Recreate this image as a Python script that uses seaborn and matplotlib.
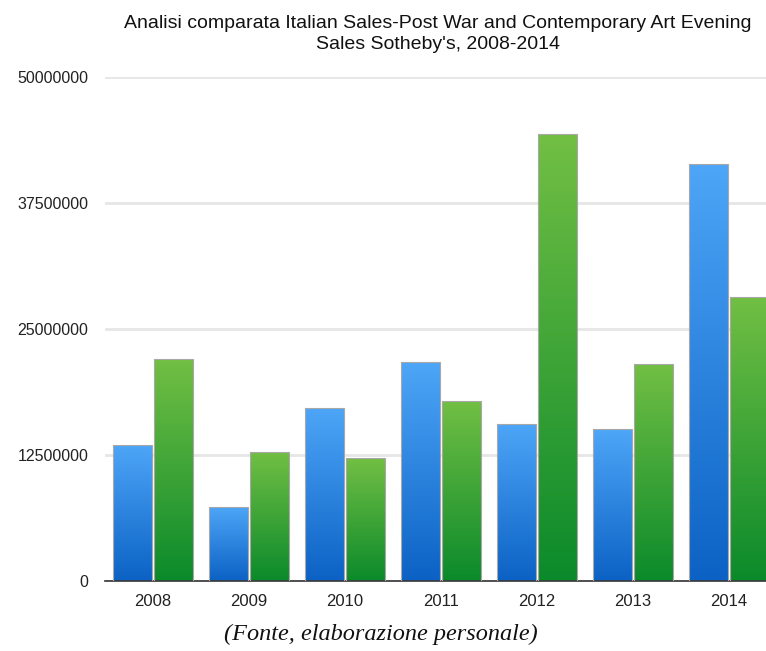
import numpy as np
import pandas as pd
import matplotlib
matplotlib.use("Agg")
import matplotlib.pyplot as plt
from matplotlib.colors import LinearSegmentedColormap
import seaborn as sns

years = ["2008", "2009", "2010", "2011", "2012", "2013", "2014"]
series_a = [13500000, 7350000, 17200000, 21700000, 15600000, 15050000, 41400000]
series_b = [22000000, 12800000, 12170000, 17900000, 44300000, 21500000, 28200000]
yticks = [0, 12500000, 25000000, 37500000, 50000000]
title = "Analisi comparata Italian Sales-Post War and Contemporary Art Evening\nSales Sotheby's, 2008-2014"
caption = "(Fonte, elaborazione personale)"

df = pd.DataFrame({
    "year": years * 2,
    "value": series_a + series_b,
    "series": ["A"] * len(years) + ["B"] * len(years),
})

sns.set_theme(style="white")
plt.rcParams["font.family"] = ["Liberation Sans", "DejaVu Sans"]

fig = plt.figure(figsize=(7.66, 6.51), dpi=100)
ax = fig.add_axes([105 / 766, 70 / 651, 672 / 766, 504 / 651])

sns.barplot(data=df, x="year", y="value", hue="series", order=years,
            hue_order=["A", "B"], palette=["#2e86e0", "#3aa53a"],
            width=0.85, gap=0.05, legend=False, ax=ax, zorder=2)

ax.set_xlim(-0.5, len(years) - 0.5)
ax.set_ylim(0, 50000000)

cmaps = {
    0: LinearSegmentedColormap.from_list("b", ["#0b62c4", "#4ea6f8"]),
    1: LinearSegmentedColormap.from_list("g", ["#0b8a2b", "#72bf44"]),
}
grad = np.linspace(0, 1, 256).reshape(-1, 1)
n = len(years)
for i, p in enumerate(list(ax.patches)[: 2 * n]):
    s = i // n
    x0, w, h = p.get_x(), p.get_width(), p.get_height()
    im = ax.imshow(grad, extent=[x0, x0 + w, 0, h], origin="lower",
                   aspect="auto", cmap=cmaps[s], zorder=2.5)
    im.set_clip_path(p)
    p.set_facecolor("none")
    p.set_edgecolor("#a8a8a8")
    p.set_linewidth(0.8)
    p.set_zorder(3)

ax.set_xlim(-0.5, len(years) - 0.5)
ax.set_ylim(0, 50000000)

ax.set_yticks(yticks)
ax.set_yticklabels([str(v) for v in yticks], fontsize=11.5, color="#222222")
ax.tick_params(axis="x", labelsize=12, colors="#222222", length=0, pad=9)
ax.tick_params(axis="y", length=0, pad=12)
ax.yaxis.grid(True, color="#e6e6e6", linewidth=2, zorder=0)
ax.xaxis.grid(False)
ax.set_axisbelow(True)
for side in ["top", "right", "left"]:
    ax.spines[side].set_visible(False)
ax.spines["bottom"].set_color("#333333")
ax.spines["bottom"].set_linewidth(1.2)
ax.set_xlabel("")
ax.set_ylabel("")

fig.text(438 / 766, 1 - 34 / 651, title, ha="center", va="center",
         fontsize=14, color="#111111", linespacing=1.35)
fig.text(381 / 766, 1 - 634 / 651, caption, ha="center", va="center",
         fontsize=17.5, style="italic", family=["Liberation Serif", "DejaVu Serif"],
         color="#111111")

fig.savefig("out.png", dpi=100)
